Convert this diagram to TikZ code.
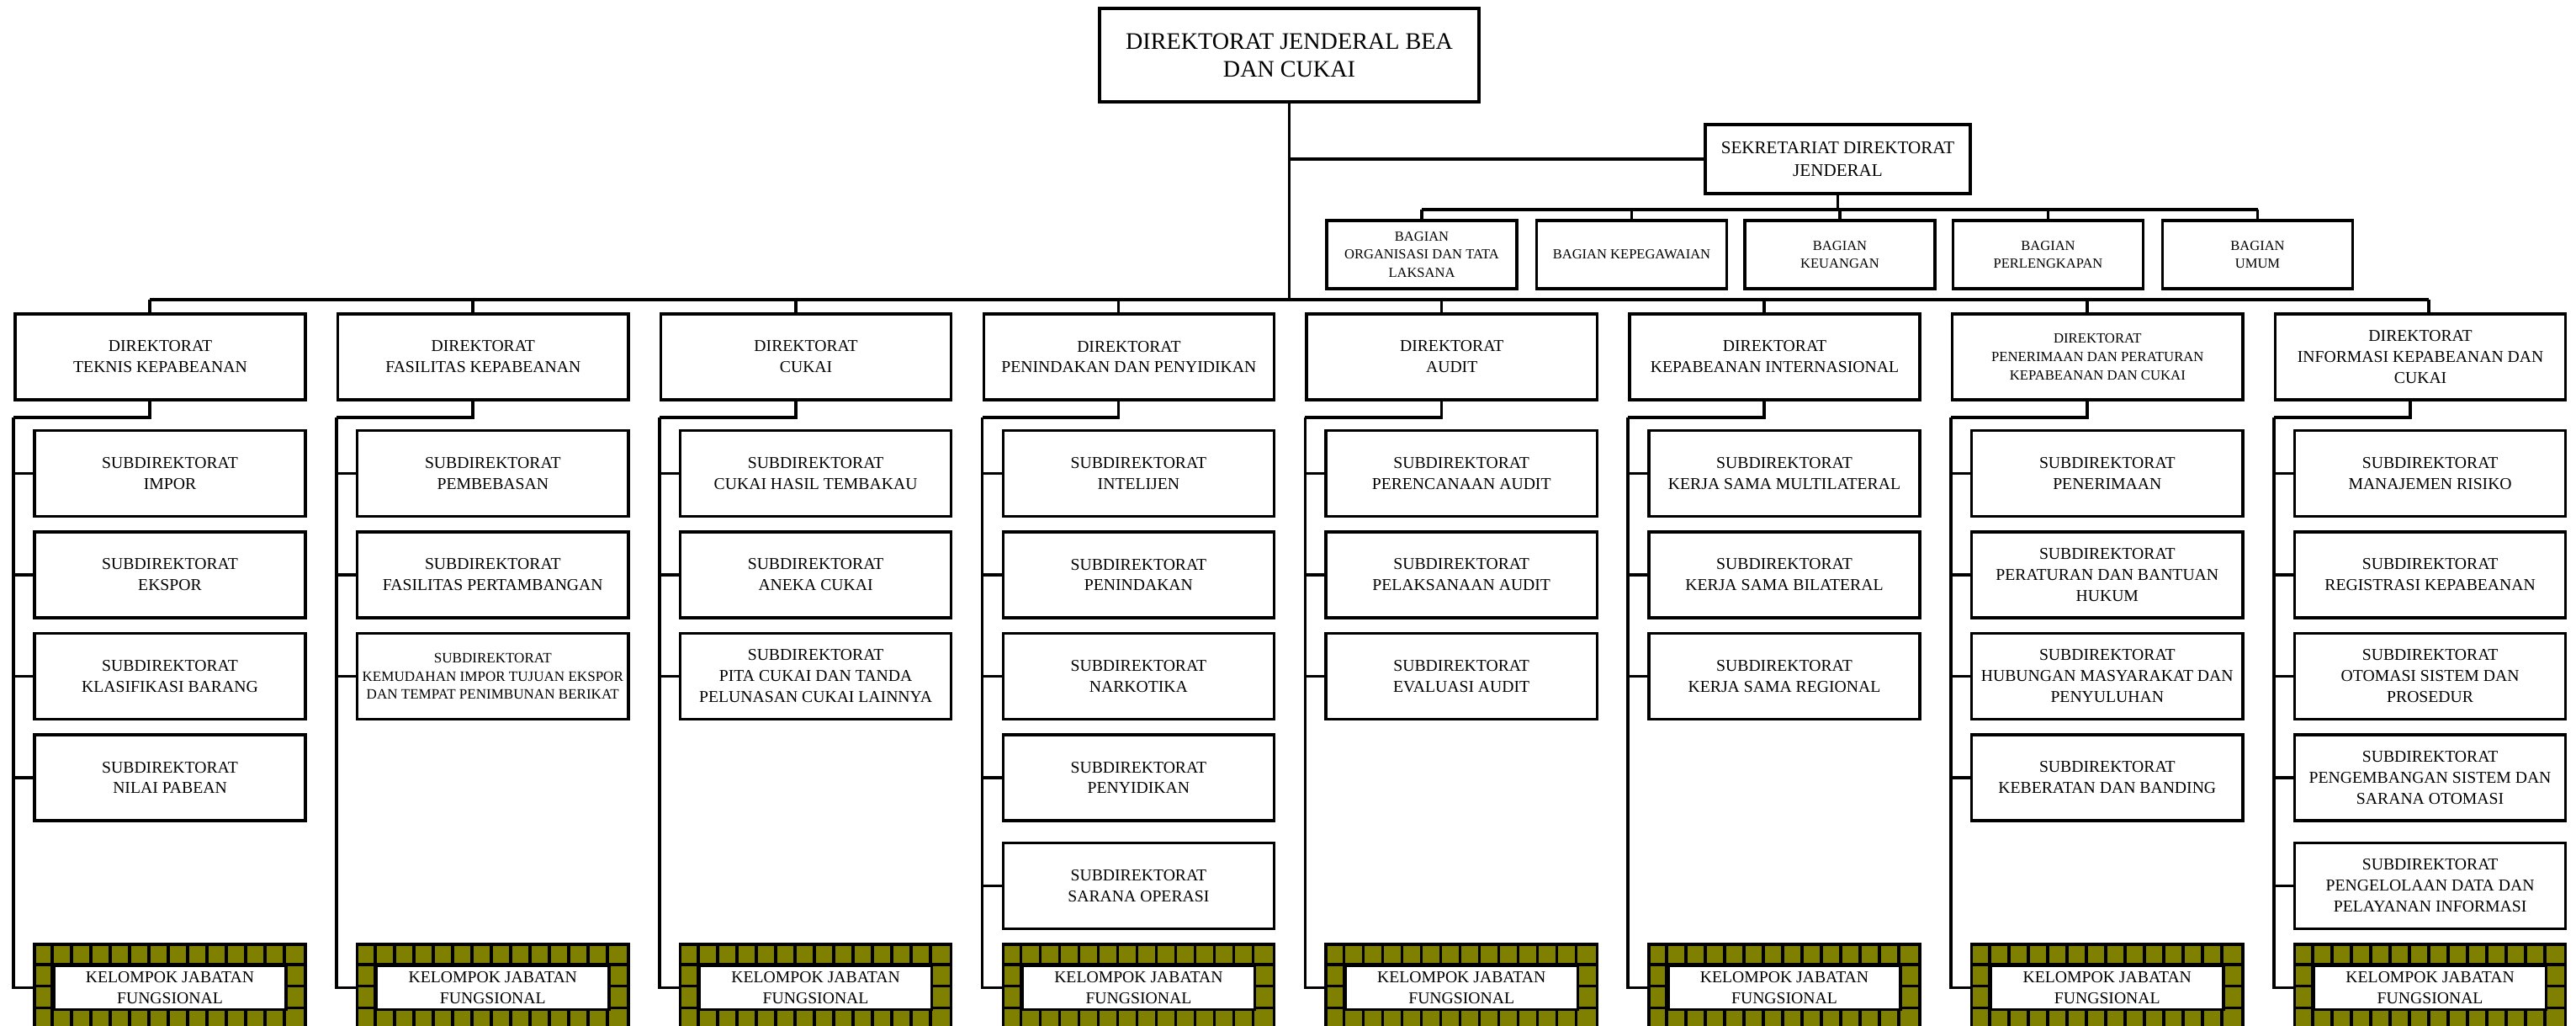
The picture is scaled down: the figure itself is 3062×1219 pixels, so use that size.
\documentclass[tikz,border=0pt]{standalone}
\usepackage{fontspec}
\setmainfont{Liberation Serif}
\usepackage{tikz}
\usetikzlibrary{positioning, calc}
\usepackage{xcolor}
\definecolor{brickolive}{RGB}{128,128,0}

\tikzset{
  unit/.style={draw, line width=1pt, fill=white, align=center, inner sep=1pt,
    font=\fontsize{5.6}{7.1}\selectfont},
  topbox/.style={unit, minimum width=4.51cm, minimum height=1.11cm, font=\fontsize{8}{9.4}\selectfont},
  sekbox/.style={unit, minimum width=3.15cm, minimum height=0.82cm, font=\fontsize{6}{7.7}\selectfont},
  bagbox/.style={unit, minimum width=2.26cm, minimum height=0.81cm, font=\fontsize{4.7}{6.1}\selectfont},
  dirbox/.style={unit, minimum width=3.45cm, minimum height=1.02cm},
  dirsmall/.style={dirbox, font=\fontsize{4.75}{6.2}\selectfont},
  subbox/.style={unit, minimum width=3.22cm, minimum height=1.02cm},
  subsmall/.style={subbox, font=\fontsize{4.85}{6.0}\selectfont},
  kjfbox/.style={draw, line width=1pt, fill=brickolive, minimum width=3.22cm, minimum height=1.03cm, inner sep=0pt},
  kjf/.style={unit, inner sep=0pt, minimum width=2.76cm, minimum height=0.515cm},
  brick/.style={line width=1pt},
  link/.style={line width=1pt},
}

\begin{document}
\begin{tikzpicture}[x=0.01cm, y=-0.01cm]
  \useasboundingbox (0,0) rectangle (3062,1219);
  \clip (0,0) rectangle (3062,1219);

  \node[topbox] (dj) at (1532.5,65.5) {DIREKTORAT JENDERAL BEA\\DAN CUKAI};
  \node[sekbox] (sek) at (2184.5,189) {SEKRETARIAT DIREKTORAT\\JENDERAL};

  \foreach \k/\xx/\txt in {1/1690/{BAGIAN\\ORGANISASI DAN TATA\\LAKSANA},
      2/1939.5/{BAGIAN KEPEGAWAIAN}, 3/2187/{BAGIAN\\KEUANGAN},
      4/2434.5/{BAGIAN\\PERLENGKAPAN}, 5/2683.5/{BAGIAN\\UMUM}}
    \node[bagbox] (b\k) at (\xx,302.5) {\txt};

  \foreach \i/\f/\st/\txt in {0/162/dirbox/{DIREKTORAT\\TEKNIS KEPABEANAN},
      1/162/dirbox/{DIREKTORAT\\FASILITAS KEPABEANAN},
      2/162/dirbox/{DIREKTORAT\\CUKAI},
      3/162/dirbox/{DIREKTORAT\\PENINDAKAN DAN PENYIDIKAN},
      4/162/dirbox/{DIREKTORAT\\AUDIT},
      5/162/dirbox/{DIREKTORAT\\KEPABEANAN INTERNASIONAL},
      6/162/dirsmall/{DIREKTORAT\\PENERIMAAN DAN PERATURAN\\KEPABEANAN DAN CUKAI},
      7/184/dirbox/{DIREKTORAT\\INFORMASI KEPABEANAN DAN\\CUKAI}} {
    \node[\st] (d\i) at (190.5+383.8*\i,424) {\txt};
    \coordinate (br\i) at ($(d\i.south west)+(0,19)$);
    \draw[link] ($(d\i.south west)+(162,0)$) |- (br\i);
    \draw[link] ($(d\i.north west)+(\f,0)$) -- ($(d\i.north west)+(\f,-15)$);
  }

  \coordinate (bus) at ($(d0.north west)+(162,-15)$);
  \draw[link] (bus) -- ($(d7.north west)+(184,-15)$);
  \draw[link] (dj.south) -- (dj.south |- bus);
  \draw[link] (dj.south |- sek.west) -- (sek.west);

  \coordinate (bbus) at ($(sek.south)+(0,17)$);
  \draw[link] (sek.south) -- (bbus);
  \draw[link] (b1.north |- bbus) -- (b5.north |- bbus);
  \foreach \k in {1,...,5}
    \draw[link] (b\k.north |- bbus) -- (b\k.north);

  \foreach \i/\r/\st/\txt in {
      0/1/subbox/{SUBDIREKTORAT\\IMPOR}, 0/2/subbox/{SUBDIREKTORAT\\EKSPOR},
      0/3/subbox/{SUBDIREKTORAT\\KLASIFIKASI BARANG}, 0/4/subbox/{SUBDIREKTORAT\\NILAI PABEAN},
      1/1/subbox/{SUBDIREKTORAT\\PEMBEBASAN}, 1/2/subbox/{SUBDIREKTORAT\\FASILITAS PERTAMBANGAN},
      1/3/subsmall/{SUBDIREKTORAT\\KEMUDAHAN IMPOR TUJUAN EKSPOR\\DAN TEMPAT PENIMBUNAN BERIKAT},
      2/1/subbox/{SUBDIREKTORAT\\CUKAI HASIL TEMBAKAU}, 2/2/subbox/{SUBDIREKTORAT\\ANEKA CUKAI},
      2/3/subbox/{SUBDIREKTORAT\\PITA CUKAI DAN TANDA\\PELUNASAN CUKAI LAINNYA},
      3/1/subbox/{SUBDIREKTORAT\\INTELIJEN}, 3/2/subbox/{SUBDIREKTORAT\\PENINDAKAN},
      3/3/subbox/{SUBDIREKTORAT\\NARKOTIKA}, 3/4/subbox/{SUBDIREKTORAT\\PENYIDIKAN},
      3/5/subbox/{SUBDIREKTORAT\\SARANA OPERASI},
      4/1/subbox/{SUBDIREKTORAT\\PERENCANAAN AUDIT}, 4/2/subbox/{SUBDIREKTORAT\\PELAKSANAAN AUDIT},
      4/3/subbox/{SUBDIREKTORAT\\EVALUASI AUDIT},
      5/1/subbox/{SUBDIREKTORAT\\KERJA SAMA MULTILATERAL}, 5/2/subbox/{SUBDIREKTORAT\\KERJA SAMA BILATERAL},
      5/3/subbox/{SUBDIREKTORAT\\KERJA SAMA REGIONAL},
      6/1/subbox/{SUBDIREKTORAT\\PENERIMAAN}, 6/2/subbox/{SUBDIREKTORAT\\PERATURAN DAN BANTUAN\\HUKUM},
      6/3/subbox/{SUBDIREKTORAT\\HUBUNGAN MASYARAKAT DAN\\PENYULUHAN},
      6/4/subbox/{SUBDIREKTORAT\\KEBERATAN DAN BANDING},
      7/1/subbox/{SUBDIREKTORAT\\MANAJEMEN RISIKO}, 7/2/subbox/{SUBDIREKTORAT\\REGISTRASI KEPABEANAN},
      7/3/subbox/{SUBDIREKTORAT\\OTOMASI SISTEM DAN\\PROSEDUR},
      7/4/subbox/{SUBDIREKTORAT\\PENGEMBANGAN SISTEM DAN\\SARANA OTOMASI},
      7/5/subbox/{SUBDIREKTORAT\\PENGELOLAAN DATA DAN\\PELAYANAN INFORMASI}} {
    \pgfmathsetmacro{\yy}{\r<5 ? 442+120.5*\r : 1052.5}
    \node[\st] (s\i-\r) at (202+383.8*\i,\yy) {\txt};
    \draw[link] (br\i |- s\i-\r.west) -- (s\i-\r.west);
  }

  \foreach \i in {0,...,7} {
    \node[kjfbox] (kb\i) at (202+383.8*\i,1173.5) {};
    \foreach \c in {1,...,13}
      \draw[brick] ($(kb\i.north west)+(23*\c,0)$) -- ($(kb\i.south west)+(23*\c,0)$);
    \foreach \rr in {1,2,3}
      \draw[brick] ($(kb\i.north west)+(0,25.75*\rr)$) -- ($(kb\i.north east)+(0,25.75*\rr)$);
    \node[kjf] (k\i) at (kb\i) {KELOMPOK JABATAN\\FUNGSIONAL};
    \draw[link] (br\i) -- (br\i |- kb\i.west) -- (kb\i.west);
  }
\end{tikzpicture}
\end{document}
